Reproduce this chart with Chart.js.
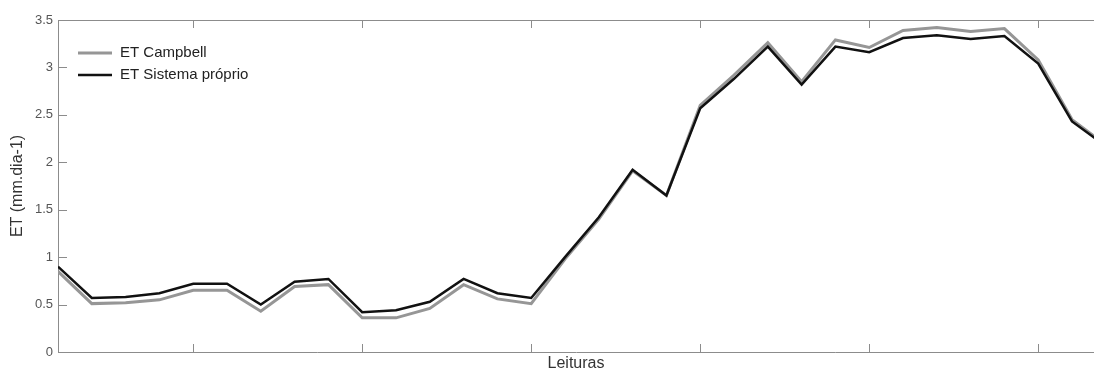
<!DOCTYPE html>
<html>
<head>
<meta charset="utf-8">
<script src="https://cdn.jsdelivr.net/npm/chart.js@4/dist/chart.umd.min.js"></script>
<style>
  body { margin: 0; background: #fff; }
  #wrap { width: 1094px; height: 372px; }
</style>
</head>
<body>
<div id="wrap"><canvas id="etChart"></canvas></div>
<script>
// leituras (reading index) and the two ET series
const readings = [1, 2, 3, 4, 5, 6, 7, 8, 9, 10, 11, 12, 13, 14, 15, 16,
  17, 18, 19, 20, 21, 22, 23, 24, 25, 26, 27, 28, 29, 30, 31, 32];
const etCampbell = [0.85, 0.51, 0.52, 0.55, 0.65, 0.65, 0.43, 0.69, 0.71, 0.36, 0.36, 0.46, 0.71, 0.56, 0.51, 0.98,
  1.40, 1.91, 1.65, 2.60, 2.92, 3.26, 2.85, 3.29, 3.21, 3.39, 3.42, 3.38, 3.41, 3.08, 2.45, 2.18];
const etSistema = [0.90, 0.57, 0.58, 0.62, 0.72, 0.72, 0.50, 0.74, 0.77, 0.42, 0.44, 0.53, 0.77, 0.62, 0.57, 1.00,
  1.42, 1.92, 1.65, 2.57, 2.88, 3.22, 2.82, 3.22, 3.16, 3.31, 3.34, 3.30, 3.33, 3.04, 2.43, 2.17];
const xTicks = [5, 10, 15, 20, 25, 30];
const yTicks = [0, 0.5, 1, 1.5, 2, 2.5, 3, 3.5];

const axisColor = '#8c8c8c';

function toPoints(values) {
  return readings.map((r, i) => ({ x: r, y: values[i] }));
}

// inward tick marks, top border and the little legend in the upper left
const matlabAxes = {
  id: 'matlabAxes',
  beforeDatasetsDraw(chart) {
    const { ctx, chartArea: a, scales: { x, y } } = chart;
    ctx.save();
    ctx.strokeStyle = axisColor;
    ctx.lineWidth = 1;
    ctx.beginPath();
    ctx.moveTo(a.left, a.top + 0.5);
    ctx.lineTo(a.right, a.top + 0.5);
    xTicks.forEach(v => {
      const px = Math.round(x.getPixelForValue(v)) + 0.5;
      ctx.moveTo(px, a.bottom);
      ctx.lineTo(px, a.bottom - 8);
      ctx.moveTo(px, a.top);
      ctx.lineTo(px, a.top + 8);
    });
    yTicks.forEach(v => {
      const py = Math.round(y.getPixelForValue(v)) + 0.5;
      ctx.moveTo(a.left, py);
      ctx.lineTo(a.left + 9, py);
    });
    ctx.stroke();
    ctx.restore();
  },
  afterDatasetsDraw(chart) {
    const { ctx, chartArea: a } = chart;
    ctx.save();
    ctx.font = '15px "Liberation Sans", Arial, sans-serif';
    ctx.textBaseline = 'middle';
    chart.data.datasets.forEach((ds, i) => {
      const yy = a.top + 33 + i * 22;
      ctx.strokeStyle = ds.borderColor;
      ctx.lineWidth = ds.borderWidth;
      ctx.beginPath();
      ctx.moveTo(a.left + 20, yy);
      ctx.lineTo(a.left + 54, yy);
      ctx.stroke();
      ctx.fillStyle = '#222';
      ctx.fillText(ds.label, a.left + 62, yy);
    });
    ctx.restore();
  }
};

new Chart(document.getElementById('etChart'), {
  type: 'line',
  data: {
    datasets: [
      {
        label: 'ET Campbell',
        data: toPoints(etCampbell),
        borderColor: '#969696',
        borderWidth: 3,
        pointRadius: 0,
        tension: 0,
        order: 2
      },
      {
        label: 'ET Sistema próprio',
        data: toPoints(etSistema),
        borderColor: '#111111',
        borderWidth: 2.5,
        pointRadius: 0,
        tension: 0,
        order: 1
      }
    ]
  },
  options: {
    responsive: true,
    maintainAspectRatio: false,
    animation: false,
    layout: { padding: { top: 20, right: 0, bottom: 0, left: 0 } },
    plugins: {
      legend: { display: false },
      tooltip: { enabled: false }
    },
    scales: {
      x: {
        type: 'linear',
        min: 1,
        max: 31.65,
        grid: { display: false },
        border: { color: axisColor, width: 1 },
        ticks: { display: false },
        title: {
          display: true,
          text: 'Leituras',
          color: '#333',
          font: { family: '"Liberation Sans", Arial, sans-serif', size: 16, lineHeight: 1 },
          padding: { top: 0, bottom: 0 }
        },
        afterFit(scale) { scale.height = 20; }
      },
      y: {
        min: 0,
        max: 3.5,
        grid: { display: false, drawTicks: false },
        border: { color: axisColor, width: 1 },
        ticks: {
          stepSize: 0.5,
          padding: 5,
          color: '#555',
          font: { family: '"Liberation Sans", Arial, sans-serif', size: 13 },
          callback: v => String(v)
        },
        title: {
          display: true,
          text: 'ET (mm.dia-1)',
          color: '#333',
          font: { family: '"Liberation Sans", Arial, sans-serif', size: 16, lineHeight: 1.2 },
          padding: { top: 8, bottom: 0 }
        },
        afterFit(scale) { scale.width = 58; }
      }
    }
  },
  plugins: [matlabAxes]
});
</script>
</body>
</html>
